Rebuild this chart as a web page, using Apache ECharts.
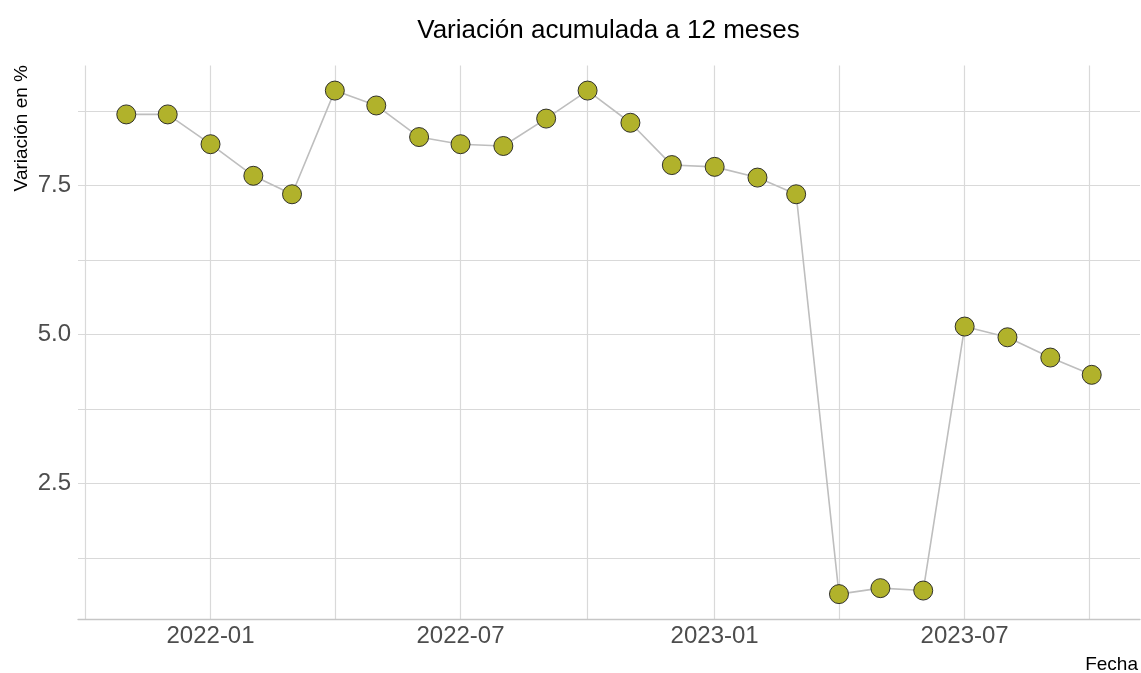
<!DOCTYPE html>
<html>
<head>
<meta charset="utf-8">
<script src="https://cdn.jsdelivr.net/npm/echarts@6/dist/echarts.min.js"></script>
<style>
html,body{margin:0;padding:0;background:#ffffff;}
#chart{width:1141px;height:673px;}
</style>
</head>
<body>
<div id="chart"></div>
<script>
// ---- data ----
const months = ['2021-11','2021-12','2022-01','2022-02','2022-03','2022-04','2022-05','2022-06',
  '2022-07','2022-08','2022-09','2022-10','2022-11','2022-12','2023-01','2023-02','2023-03',
  '2023-04','2023-05','2023-06','2023-07','2023-08','2023-09','2023-10'];
const values = [8.69, 8.69, 8.19, 7.66, 7.35, 9.09, 8.84, 8.31, 8.19, 8.16, 8.62, 9.09,
  8.55, 7.84, 7.81, 7.63, 7.35, 0.64, 0.74, 0.70, 5.13, 4.95, 4.61, 4.32];
const xTickLabels = ['2022-01','2022-07','2023-01','2023-07'];
const yTicks = [2.5, 5.0, 7.5];
const yTickLabels = ['2.5','5.0','7.5'];
const titleText = 'Variación acumulada a 12 meses';
const xTitle = 'Fecha';
const yTitle = 'Variación en %';

// ---- helpers ----
const DAY = 86400000;
const toDay = s => { const p = s.split('-').map(Number); return Date.UTC(p[0], p[1]-1, 1) / DAY; };
const data = months.map((m, i) => [toDay(m), values[i]]);
const xs = data.map(d => d[0]);
const t0 = Math.min(...xs), t1 = Math.max(...xs);
const xPad = (t1 - t0) * 0.05;
const xMin = t0 - xPad, xMax = t1 + xPad;
const v0 = Math.min(...values), v1 = Math.max(...values);
const yPad = (v1 - v0) * 0.05;
const yMin = v0 - yPad, yMax = v1 + yPad;

const xMajor = xTickLabels.map(toDay);
function minorBreaks(b, lo, hi) {
  const bd = b[1] - b[0];
  const ext = [b[0] - bd, ...b, b[b.length-1] + bd];
  const out = [];
  for (let i = 0; i < ext.length - 1; i++) out.push((ext[i] + ext[i+1]) / 2);
  return out.filter(v => v > lo && v < hi);
}
const xMinor = minorBreaks(xMajor, xMin, xMax);
const yMinor = minorBreaks(yTicks, yMin, yMax);

const FONT = '"Liberation Sans", Arial, sans-serif';
const gridColor = '#d9d9d9';

const chart = echarts.init(document.getElementById('chart'), null, {renderer: 'canvas'});
chart.setOption({
  animation: false,
  backgroundColor: '#ffffff',
  grid: {left: 78, width: 1062, top: 65.4, height: 553.9, containLabel: false},
  xAxis: [{
    type: 'value', min: xMin, max: xMax, scale: true,
    axisLine: {show: true, onZero: false, lineStyle: {color: '#c6c6c6', width: 1.3}},
    axisTick: {show: false, customValues: xMajor},
    axisLabel: {
      customValues: xMajor, margin: 5, color: '#4d4d4d', fontSize: 24, fontFamily: FONT,
      formatter: v => { const i = xMajor.findIndex(t => Math.abs(t - v) < 0.5); return i >= 0 ? xTickLabels[i] : ''; }
    },
    splitLine: {show: true, lineStyle: {color: gridColor, width: 1.2}}
  }, {
    type: 'value', min: xMin, max: xMax, scale: true,
    axisLine: {show: false}, axisTick: {show: false, customValues: xMinor},
    axisLabel: {show: false, customValues: xMinor},
    splitLine: {show: true, lineStyle: {color: gridColor, width: 1.2}}
  }],
  yAxis: [{
    type: 'value', min: yMin, max: yMax,
    axisLine: {show: false}, axisTick: {show: false, customValues: yTicks},
    axisLabel: {
      customValues: yTicks, margin: 7, color: '#4d4d4d', fontSize: 24, fontFamily: FONT,
      formatter: v => { const i = yTicks.findIndex(t => Math.abs(t - v) < 1e-6); return i >= 0 ? yTickLabels[i] : ''; }
    },
    splitLine: {show: true, lineStyle: {color: gridColor, width: 1.2}}
  }, {
    type: 'value', min: yMin, max: yMax,
    axisLine: {show: false}, axisTick: {show: false, customValues: yMinor},
    axisLabel: {show: false, customValues: yMinor},
    splitLine: {show: true, lineStyle: {color: gridColor, width: 1.2}}
  }],
  series: [{
    type: 'line', xAxisIndex: 0, yAxisIndex: 0, data: data,
    symbol: 'circle', symbolSize: 19, showAllSymbol: true,
    lineStyle: {color: '#bebebe', width: 1.6},
    itemStyle: {color: '#b1b22b', borderColor: '#1f1f1f', borderWidth: 0.9},
    emphasis: {disabled: true}, silent: true, z: 5
  }],
  graphic: [
    {type: 'text', x: 608.5, y: 31, style: {text: titleText, fontSize: 26, fontFamily: FONT, fill: '#000000', align: 'center', verticalAlign: 'middle'}},
    {type: 'text', x: 21.5, y: 65, rotation: Math.PI / 2, style: {text: yTitle, fontSize: 19, fontFamily: FONT, fill: '#000000', align: 'right', verticalAlign: 'middle'}},
    {type: 'text', x: 1138, y: 665, style: {text: xTitle, fontSize: 19, fontFamily: FONT, fill: '#000000', align: 'right', verticalAlign: 'middle'}}
  ]
});
</script>
</body>
</html>
